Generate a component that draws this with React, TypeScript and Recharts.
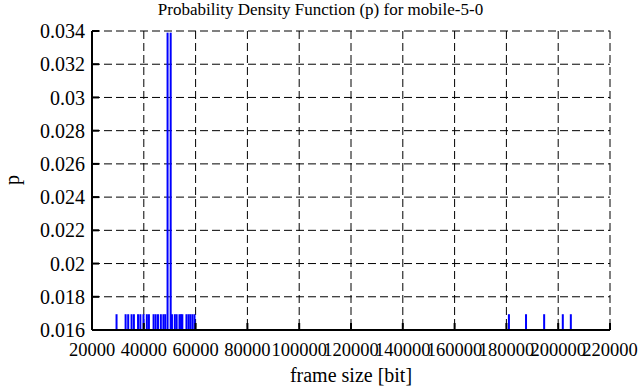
import React from "react";
import { ComposedChart, Bar, XAxis, YAxis, CartesianGrid } from "recharts";

const frameSizes: number[] = [
  29500, 33000, 34000, 35300, 36200, 37800, 38700, 39900, 41200, 42000,
  43800, 44600, 45500, 46600, 47600, 48300, 49200, 50400, 50900, 52000,
  52700, 53800, 54400, 54900, 56500, 57300, 58000, 58800, 59600,
  181000, 187600, 194600, 201800, 204900,
];
const probabilities: number[] = [
  0.01695, 0.01695, 0.01695, 0.01695, 0.01695, 0.01695, 0.01695, 0.01695, 0.01695, 0.01695,
  0.01695, 0.01695, 0.01695, 0.01695, 0.01695, 0.01695, 0.0339, 0.0339, 0.01695, 0.01695,
  0.01695, 0.01695, 0.01695, 0.01695, 0.01695, 0.01695, 0.01695, 0.01695, 0.01695,
  0.01695, 0.01695, 0.01695, 0.01695, 0.01695,
];
const xTicks: number[] = [20000, 40000, 60000, 80000, 100000, 120000, 140000, 160000, 180000, 200000, 220000];
const yTicks: number[] = [0.016, 0.018, 0.02, 0.022, 0.024, 0.026, 0.028, 0.03, 0.032, 0.034];

const data = frameSizes.map((x, i) => ({ x, p: probabilities[i] }));

const FONT = "'Liberation Serif', serif";
const line = { stroke: "#000", strokeWidth: 2 };
const xTickStyle = { fill: "#000", fontSize: 18.5 };
const yTickStyle = { fill: "#000", fontSize: 20 };

const Impulse = (props: any) => {
  const { x, y, width, height } = props;
  if (height == null || isNaN(height)) return null;
  return <rect x={x + width / 2 - 1} y={y} width={2} height={height} fill="#0000ff" />;
};

export default function App() {
  return (
    <div style={{ position: "absolute", left: 0, top: 0, width: 641, height: 387, background: "#fff", fontFamily: FONT }}>
      <style>{`svg text, svg tspan { font-family: 'Liberation Serif', serif !important; }`}</style>
      <div style={{ position: "absolute", left: 0, top: 0, width: 641, textAlign: "center", fontSize: 17, lineHeight: "20px", color: "#000" }}>
        Probability Density Function (p) for mobile-5-0
      </div>
      <div style={{ position: "absolute", left: 2, top: 170, width: 20, height: 20, fontSize: 20, lineHeight: "20px", textAlign: "center", transform: "rotate(-90deg)", color: "#000" }}>
        p
      </div>
      <ComposedChart width={641} height={387} data={data} margin={{ top: 31, right: 31, left: 0, bottom: 0 }}>
        <CartesianGrid xAxisId="b" yAxisId="l" stroke="#000" strokeWidth={1} strokeDasharray="8 4" horizontalValues={yTicks} verticalValues={xTicks} />
        <XAxis xAxisId="b" dataKey="x" type="number" domain={[20000, 220000]} ticks={xTicks} allowDataOverflow
          height={57} axisLine={line} tickLine={line} tickSize={-7} tickMargin={20}
          tick={xTickStyle} interval={0}
          label={{ value: "frame size [bit]", position: "insideBottom", offset: 5, fill: "#000", fontSize: 20 }} />
        <XAxis xAxisId="t" dataKey="x" type="number" orientation="top" domain={[20000, 220000]} ticks={xTicks} allowDataOverflow
          height={0} axisLine={line} tickLine={line} tickSize={-7} tick={false} />
        <YAxis yAxisId="l" type="number" domain={[0.016, 0.034]} ticks={yTicks} allowDataOverflow
          width={92} axisLine={line} tickLine={line} tickSize={-7} tickMargin={14} interval={0}
          tickFormatter={(v: number) => String(v)}
          tick={yTickStyle} />
        <YAxis yAxisId="r" orientation="right" type="number" domain={[0.016, 0.034]} ticks={yTicks} allowDataOverflow
          width={0} axisLine={line} tickLine={line} tickSize={-7} tick={false} />
        <Bar xAxisId="b" yAxisId="l" dataKey="p" fill="#0000ff" barSize={2} shape={Impulse} isAnimationActive={false} />
      </ComposedChart>
    </div>
  );
}
